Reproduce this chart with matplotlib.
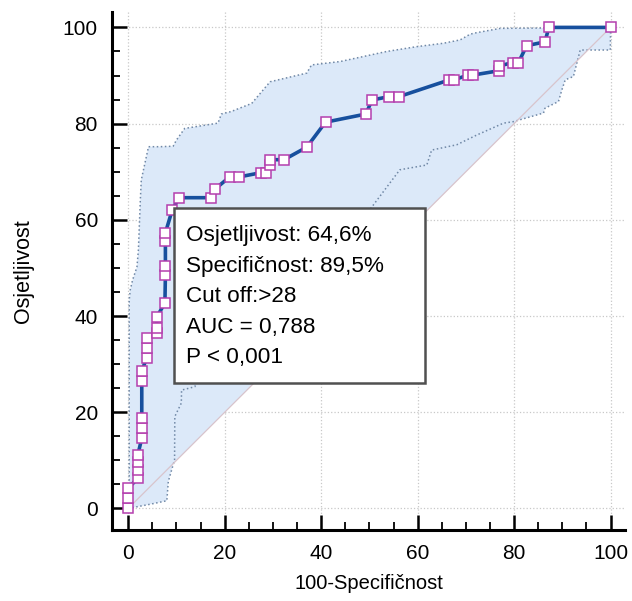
import numpy as np
import matplotlib
matplotlib.use("Agg")
import matplotlib.pyplot as plt
from matplotlib.patches import Rectangle
from matplotlib.ticker import MultipleLocator

plt.rcParams['font.family'] = ['Liberation Sans', 'DejaVu Sans']

# ROC points: 100-specificity (x) and sensitivity (y)
fpr = [0, 0, 0, 2.0, 2.0, 2.0, 2.0, 2.8, 2.8, 2.8, 2.8, 2.8,
       3.8, 3.8, 3.8, 5.9, 5.9, 5.9, 7.6, 7.7, 7.7, 7.7, 7.7,
       9.1, 10.5, 17.1, 18.0, 21.0, 22.9, 27.5, 28.5, 29.4, 29.4,
       32.3, 37.0, 40.9, 49.3, 50.5, 54.0, 56.1, 66.6, 67.5, 70.5,
       71.5, 76.9, 76.9, 79.8, 80.9, 82.6, 86.4, 87.2, 100]
sens = [0, 2.1, 4.2, 6.3, 8.0, 9.6, 11.2, 14.6, 16.7, 18.8, 26.5, 28.5,
        31.3, 33.3, 35.4, 36.5, 37.5, 39.8, 42.7, 48.5, 50.5, 55.5, 57.3,
        62.0, 64.6, 64.6, 66.4, 68.9, 68.9, 69.8, 69.8, 71.4, 72.5,
        72.5, 75.1, 80.3, 82.0, 84.9, 85.6, 85.6, 89.1, 89.1, 90.1,
        90.1, 91.0, 92.0, 92.7, 92.7, 96.2, 97.0, 100, 100]

# upper confidence bound
up_x = [0, 0.2, 0.2, 0.4, 0.9, 1.8, 2.1, 2.5, 2.7, 4.2, 6.5, 9.3, 10.0,
        11.7, 18.6, 19.3, 21.3, 25.6, 29.4, 37.0, 38.0, 43.9, 53.6,
        59.8, 65.3, 68.8, 70.9, 72.2, 77.1, 100]
up_y = [0, 0.1, 43.3, 45.4, 47.5, 50.2, 53.7, 64.1, 68.3, 75.2, 75.2,
        75.3, 76.6, 79.0, 80.1, 82.0, 82.5, 84.2, 88.7, 90.5, 92.2, 92.9,
        95.0, 96.0, 96.7, 97.4, 98.6, 98.9, 99.8, 100]

# lower confidence bound
lo_x = [0, 4.7, 8.0, 8.3, 9.6, 9.65, 11.0, 11.05, 13.8, 14.1, 20, 30,
        40, 50, 56.3, 61.9, 62.9, 68.1, 72.2, 77.8, 79.8, 86.1, 86.4,
        89.2, 89.9, 90.6, 92.3, 93.7, 99.7, 99.95, 100]
lo_y = [0, 0.9, 1.6, 5.6, 10.1, 19.1, 21.9, 24.6, 25.3, 26.0, 33, 44,
        52, 62.0, 70.4, 71.4, 74.5, 75.6, 77.6, 80.1, 80.4, 82.2, 83.2,
        84.6, 87.0, 89.1, 89.8, 95.3, 95.3, 95.3, 100]

info = ["Osjetljivost: 64,6%", "Specifičnost: 89,5%", "Cut off:>28",
        "AUC = 0,788", "P < 0,001"]

fig = plt.figure(figsize=(6.32, 6.01), dpi=100)
ax = fig.add_axes([0.177, 0.118, 0.812, 0.862])

# shaded band: upper bound down to min(lower bound, diagonal)
grid = np.linspace(0, 100, 2001)
lo_i = np.interp(grid, lo_x, lo_y)
bottom = np.minimum(lo_i, grid)
poly_x = np.concatenate([up_x, grid[::-1]])
poly_y = np.concatenate([up_y, bottom[::-1]])
ax.fill(poly_x, poly_y, color="#dce9f9", lw=0, zorder=1)

ax.plot(up_x, up_y, ls=":", color="#7088a6", lw=1.1, zorder=2)
ax.plot(lo_x, lo_y, ls=":", color="#7088a6", lw=1.1, zorder=2)
ax.plot([0, 100], [0, 100], color="#d8c4cc", lw=0.9, zorder=2)

ax.plot(fpr, sens, color="#17509e", lw=2.6, zorder=3)
ax.plot(fpr, sens, ls="none", marker="s", ms=7.5, mfc="white",
        mec="#b43fae", mew=1.1, zorder=4)

# info box
ax.add_patch(Rectangle((9.4, 26.1), 52.1, 36.4, facecolor="white",
                       edgecolor="#505050", lw=1.8, zorder=5))
for i, s in enumerate(info):
    ax.text(11.9, 56.7 - i * 6.35, s, fontsize=16.2, va="center",
            ha="left", zorder=6)

ax.set_xlim(-3.4, 103)
ax.set_ylim(-4.5, 103.2)
ax.xaxis.set_major_locator(MultipleLocator(20))
ax.yaxis.set_major_locator(MultipleLocator(20))
ax.xaxis.set_minor_locator(MultipleLocator(5))
ax.yaxis.set_minor_locator(MultipleLocator(5))
ax.grid(True, which="major", ls=":", color="#c8c8c8", lw=0.9, zorder=0)
ax.set_axisbelow(True)

for side in ["top", "right"]:
    ax.spines[side].set_visible(False)
for side in ["left", "bottom"]:
    ax.spines[side].set_linewidth(2.2)
ax.tick_params(which="major", direction="in", length=10.5, width=1.8,
               labelsize=15, pad=10)
ax.tick_params(which="minor", direction="in", length=5.5, width=1.3)

ax.set_xlabel("100-Specifičnost", fontsize=14.5, labelpad=8)
ax.set_ylabel("Osjetljivost", fontsize=15.5, labelpad=21)

fig.savefig("out.png", dpi=100)
